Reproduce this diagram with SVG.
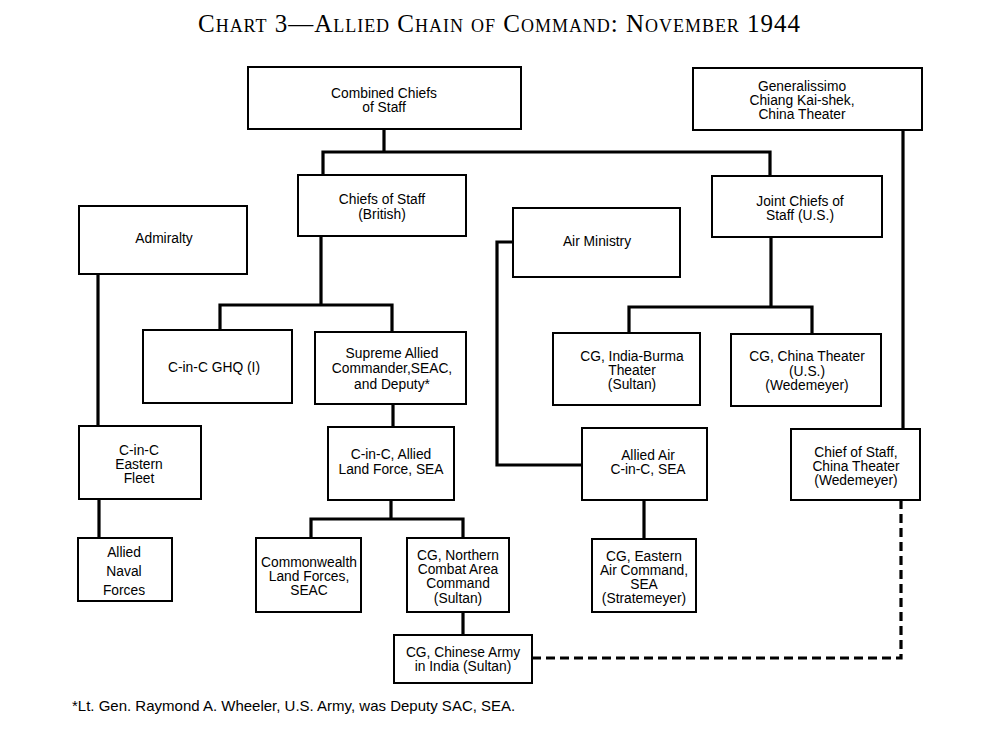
<svg xmlns="http://www.w3.org/2000/svg" width="1000" height="736" viewBox="0 0 1000 736">
<style>
.box{fill:#fff;stroke:#000;stroke-width:2}
.lbl{font-family:"Liberation Sans",Arial,sans-serif;font-size:13.8px;text-anchor:middle;fill:#000}
.conn{stroke:#000;stroke-width:3.2;fill:none}
.dash{stroke-dasharray:9 5}
.title{font-family:"Liberation Serif","Times New Roman",serif;font-size:25px;font-variant:small-caps;fill:#000}
.note{font-family:"Liberation Sans",Arial,sans-serif;font-size:15px;fill:#000}
</style>
<rect width="1000" height="736" fill="#fff"/>
<text class="title" x="198" y="32" textLength="602" lengthAdjust="spacing">Chart 3—Allied Chain of Command: November 1944</text>
<g id="connectors">
<path class="conn" d="M384,129 V152 M323,175 V152 H770 V176"/>
<path class="conn" d="M903,130 V429"/>
<path class="conn" d="M321,236 V305 M220,330 V305 H392 V332"/>
<path class="conn" d="M98,274 V426"/>
<path class="conn" d="M99,499 V538"/>
<path class="conn" d="M393,404 V427"/>
<path class="conn" d="M391,500 V519 M311,538 V519 H463 V538"/>
<path class="conn" d="M463,612 V635"/>
<path class="conn" d="M513,242 H497 V465 H582"/>
<path class="conn" d="M771,237 V307 M629,333 V307 H812 V334"/>
<path class="conn" d="M644,500 V539"/>
<path class="conn dash" d="M532,658 H901 V500"/>
</g>
<g id="combined-chiefs"><rect class="box" x="248" y="67" width="273" height="62"/><text class="lbl" x="384" y="98">Combined Chiefs</text><text class="lbl" x="384" y="112">of Staff</text></g>
<g id="generalissimo"><rect class="box" x="693" y="68" width="229" height="62"/><text class="lbl" x="802" y="91">Generalissimo</text><text class="lbl" x="802" y="105">Chiang Kai-shek,</text><text class="lbl" x="802" y="119">China Theater</text></g>
<g id="chiefs-british"><rect class="box" x="298" y="175" width="168" height="61"/><text class="lbl" x="382" y="204">Chiefs of Staff</text><text class="lbl" x="382" y="219">(British)</text></g>
<g id="admiralty"><rect class="box" x="79" y="206" width="168" height="68"/><text class="lbl" x="164" y="243">Admiralty</text></g>
<g id="air-ministry"><rect class="box" x="513" y="208" width="167" height="69"/><text class="lbl" x="597" y="246">Air Ministry</text></g>
<g id="joint-chiefs"><rect class="box" x="712" y="176" width="170" height="61"/><text class="lbl" x="800" y="206">Joint Chiefs of</text><text class="lbl" x="800" y="220">Staff (U.S.)</text></g>
<g id="cinc-ghq"><rect class="box" x="143" y="330" width="149" height="73"/><text class="lbl" x="214" y="372">C-in-C GHQ (I)</text></g>
<g id="supreme-allied"><rect class="box" x="315" y="332" width="151" height="72"/><text class="lbl" x="392" y="358">Supreme Allied</text><text class="lbl" x="392" y="373">Commander,SEAC,</text><text class="lbl" x="392" y="389">and Deputy*</text></g>
<g id="cg-india-burma"><rect class="box" x="553" y="333" width="147" height="72"/><text class="lbl" x="632" y="361">CG, India-Burma</text><text class="lbl" x="632" y="375">Theater</text><text class="lbl" x="632" y="389">(Sultan)</text></g>
<g id="cg-china-theater"><rect class="box" x="731" y="334" width="150" height="72"/><text class="lbl" x="807" y="361">CG, China Theater</text><text class="lbl" x="807" y="376">(U.S.)</text><text class="lbl" x="807" y="390">(Wedemeyer)</text></g>
<g id="cinc-eastern-fleet"><rect class="box" x="79" y="426" width="122" height="73"/><text class="lbl" x="139" y="455">C-in-C</text><text class="lbl" x="139" y="469">Eastern</text><text class="lbl" x="139" y="483">Fleet</text></g>
<g id="cinc-allied-land"><rect class="box" x="328" y="427" width="126" height="73"/><text class="lbl" x="391" y="459">C-in-C, Allied</text><text class="lbl" x="391" y="474">Land Force, SEA</text></g>
<g id="allied-air"><rect class="box" x="582" y="428" width="125" height="72"/><text class="lbl" x="648" y="460">Allied Air</text><text class="lbl" x="648" y="474">C-in-C, SEA</text></g>
<g id="chief-of-staff-china"><rect class="box" x="791" y="429" width="129" height="71"/><text class="lbl" x="856" y="457">Chief of Staff,</text><text class="lbl" x="856" y="471">China Theater</text><text class="lbl" x="856" y="485">(Wedemeyer)</text></g>
<g id="allied-naval"><rect class="box" x="78" y="538" width="94" height="63"/><text class="lbl" x="124" y="557">Allied</text><text class="lbl" x="124" y="576">Naval</text><text class="lbl" x="124" y="595">Forces</text></g>
<g id="commonwealth"><rect class="box" x="256" y="538" width="105" height="74"/><text class="lbl" x="309" y="567">Commonwealth</text><text class="lbl" x="309" y="581">Land Forces,</text><text class="lbl" x="309" y="595">SEAC</text></g>
<g id="cg-northern"><rect class="box" x="407" y="538" width="102" height="74"/><text class="lbl" x="458" y="560">CG, Northern</text><text class="lbl" x="458" y="574">Combat Area</text><text class="lbl" x="458" y="588">Command</text><text class="lbl" x="458" y="603">(Sultan)</text></g>
<g id="cg-eastern-air"><rect class="box" x="592" y="539" width="104" height="73"/><text class="lbl" x="644" y="561">CG, Eastern</text><text class="lbl" x="644" y="575">Air Command,</text><text class="lbl" x="644" y="589">SEA</text><text class="lbl" x="644" y="603">(Stratemeyer)</text></g>
<g id="cg-chinese-army"><rect class="box" x="394" y="635" width="138" height="48"/><text class="lbl" x="463" y="657">CG, Chinese Army</text><text class="lbl" x="463" y="671">in India (Sultan)</text></g>
<text class="note" x="72" y="711">*Lt. Gen. Raymond A. Wheeler, U.S. Army, was Deputy SAC, SEA.</text>
</svg>
